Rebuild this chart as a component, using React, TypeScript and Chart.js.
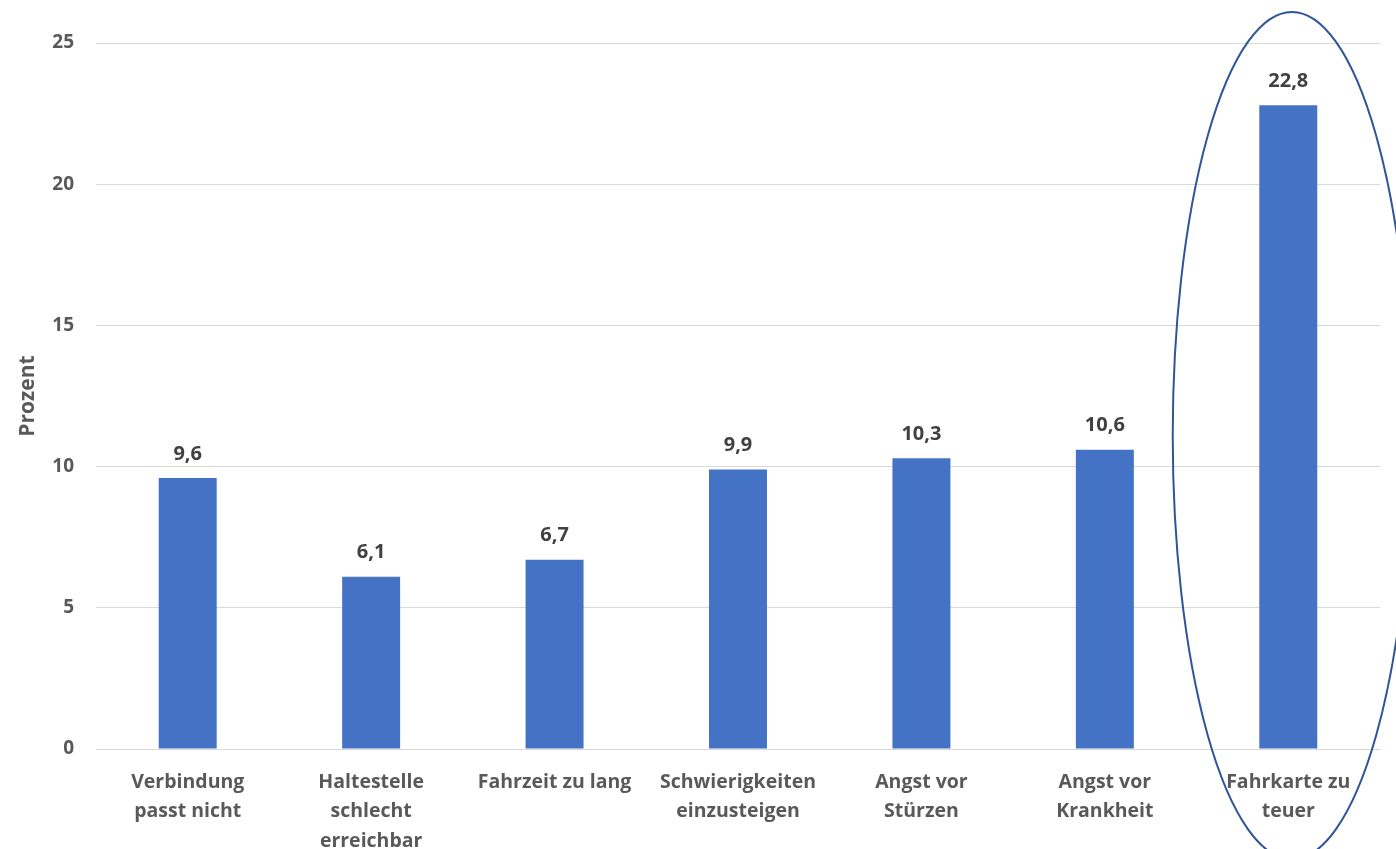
import React, { useEffect, useRef } from "react";
import { Chart, registerables } from "chart.js";

Chart.register(...registerables);

const categories: string[][] = [
  ["Verbindung", "passt nicht"],
  ["Haltestelle", "schlecht", "erreichbar"],
  ["Fahrzeit zu lang"],
  ["Schwierigkeiten", "einzusteigen"],
  ["Angst vor", "Stürzen"],
  ["Angst vor", "Krankheit"],
  ["Fahrkarte zu", "teuer"],
];
const values: number[] = [9.6, 6.1, 6.7, 9.9, 10.3, 10.6, 22.8];
const yTicks: number[] = [0, 5, 10, 15, 20, 25];
const yAxisTitle = "Prozent";
const highlightIndex = 6;
// ellipse extent in data units around the highlighted category
const ellipseValueTop = 26.1;
const ellipseValueBottom = -3.9;
const ellipseHalfWidthCategories = 0.65;
const ellipseCenterShiftCategories = 0.02;

const FONT = "'Open Sans', 'Noto Sans', sans-serif";

export default function App() {
  const ref = useRef<HTMLCanvasElement | null>(null);

  useEffect(() => {
    document.body.style.margin = "0";
    const canvas = ref.current;
    if (!canvas) return;

    const labelsPlugin = {
      id: "valueLabels",
      afterDatasetsDraw(chart: any) {
        const ctx = chart.ctx;
        const meta = chart.getDatasetMeta(0);
        ctx.save();
        ctx.font = `bold 20px ${FONT}`;
        ctx.fillStyle = "#404040";
        ctx.textAlign = "center";
        ctx.textBaseline = "middle";
        meta.data.forEach((bar: any, i: number) => {
          const txt = values[i].toFixed(1).replace(".", ",");
          ctx.fillText(txt, bar.x, bar.y - 24);
        });
        ctx.restore();
      },
    };

    const ellipsePlugin = {
      id: "highlightEllipse",
      afterDraw(chart: any) {
        const ctx = chart.ctx;
        const xs = chart.scales.x;
        const ys = chart.scales.y;
        const catW = xs.getPixelForValue(1) - xs.getPixelForValue(0);
        const cx = xs.getPixelForValue(highlightIndex) + catW * ellipseCenterShiftCategories;
        const top = ys.getPixelForValue(ellipseValueTop);
        const bottom = ys.getPixelForValue(ellipseValueBottom);
        ctx.save();
        ctx.strokeStyle = "#2F5597";
        ctx.lineWidth = 2;
        ctx.beginPath();
        ctx.ellipse(cx, (top + bottom) / 2, catW * ellipseHalfWidthCategories, (bottom - top) / 2, 0, 0, Math.PI * 2);
        ctx.stroke();
        ctx.restore();
      },
    };

    const chart = new Chart(canvas, {
      type: "bar",
      data: {
        labels: categories,
        datasets: [
          {
            data: values,
            backgroundColor: "#4472C4",
            borderWidth: 0,
            categoryPercentage: 1,
            barPercentage: 0.316,
          },
        ],
      },
      options: {
        animation: false,
        responsive: false,
        maintainAspectRatio: false,
        layout: { padding: { top: 43, left: 0, right: 16, bottom: 0 } },
        plugins: {
          legend: { display: false },
          tooltip: { enabled: false },
          title: { display: false },
        },
        scales: {
          x: {
            grid: { display: false, drawTicks: false },
            border: { display: true, color: "#D9D9D9", width: 1 },
            ticks: {
              color: "#595959",
              font: { family: FONT, size: 19.5, weight: "bold", lineHeight: 1.5 },
              padding: 19,
              maxRotation: 0,
              autoSkip: false,
            },
            afterFit(scale: any) {
              scale.height = 100;
            },
          },
          y: {
            min: 0,
            max: 25,
            afterBuildTicks(scale: any) {
              scale.ticks = yTicks.map((v) => ({ value: v }));
            },
            grid: { color: "#D9D9D9", lineWidth: 1, drawTicks: false },
            border: { display: false },
            ticks: {
              color: "#595959",
              font: { family: FONT, size: 19, weight: "bold" },
              padding: 22,
            },
            title: {
              display: true,
              text: yAxisTitle,
              color: "#595959",
              font: { family: FONT, size: 21, weight: "bold" },
              padding: { top: 15, bottom: 0 },
            },
            afterFit(scale: any) {
              scale.width = 96;
            },
          },
        },
      },
      plugins: [labelsPlugin, ellipsePlugin],
    });

    return () => chart.destroy();
  }, []);

  return (
    <div style={{ position: "relative", width: 1396, height: 849 }}>
      <canvas ref={ref} width={1396} height={849} style={{ display: "block" }} />
    </div>
  );
}
